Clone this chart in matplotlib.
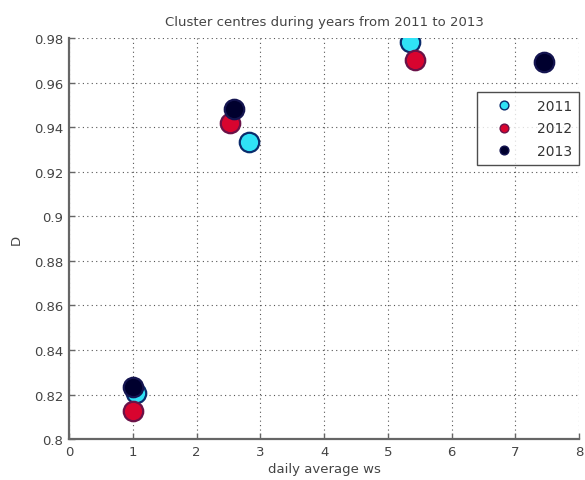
import matplotlib
matplotlib.use("Agg")
import matplotlib.pyplot as plt

plt.rcParams['font.family'] = ['DejaVu Sans']

years = ["2011", "2012", "2013"]
ws_2011 = [1.05, 2.82, 5.35]
d_2011 = [0.8205, 0.9335, 0.978]
ws_2012 = [1.0, 2.52, 5.42]
d_2012 = [0.8125, 0.942, 0.970]
ws_2013 = [1.0, 2.58, 7.45]
d_2013 = [0.8235, 0.948, 0.969]

xticks = [0, 1, 2, 3, 4, 5, 6, 7, 8]
yticks = [0.8, 0.82, 0.84, 0.86, 0.88, 0.9, 0.92, 0.94, 0.96, 0.98]
ytick_labels = ["0.8", "0.82", "0.84", "0.86", "0.88", "0.9", "0.92", "0.94", "0.96", "0.98"]

styles = [
    ("#30e2f6", "#0a2c6c"),
    ("#d8042f", "#6a1248"),
    ("#00002e", "#141450"),
]

fig = plt.figure(figsize=(5.85, 4.81), dpi=100)
ax = fig.add_axes([0.118, 0.085, 0.872, 0.834])

series = [(ws_2011, d_2011), (ws_2012, d_2012), (ws_2013, d_2013)]
for (xs, ys), label, (fc, ec) in zip(series, years, styles):
    ax.plot(xs, ys, linestyle="none", marker="o", markersize=14,
            markerfacecolor=fc, markeredgecolor=ec, markeredgewidth=1.6,
            label=label, zorder=3)

ax.set_xlim(0, 8)
ax.set_ylim(0.8, 0.98)
ax.set_xticks(xticks)
ax.set_yticks(yticks)
ax.set_yticklabels(ytick_labels)
ax.grid(True, linestyle=(0, (1, 3)), color="#555555", linewidth=0.8)
ax.set_axisbelow(True)

for s in ("top", "right"):
    ax.spines[s].set_visible(False)
for s in ("left", "bottom"):
    ax.spines[s].set_color("#666666")
    ax.spines[s].set_linewidth(1.6)

ax.tick_params(direction="in", length=4, width=1, colors="#666666",
               labelcolor="#444444", labelsize=9.5, pad=4)

ax.set_xlabel("daily average ws", fontsize=9.5, color="#444444", labelpad=3)
ax.set_ylabel("D", fontsize=9.5, color="#444444", labelpad=8)
ax.set_title("Cluster centres during years from 2011 to 2013", fontsize=9.5,
             color="#444444", pad=9)

leg = ax.legend(loc="upper right", bbox_to_anchor=(0.9995, 0.865),
                markerscale=0.45, fontsize=10, frameon=True, fancybox=False,
                borderpad=0.5, labelspacing=0.6, handlelength=2.9,
                handletextpad=0.9, borderaxespad=0)
leg.get_frame().set_edgecolor("#222222")
leg.get_frame().set_linewidth(1.0)
for h in leg.legend_handles:
    h.set_markeredgewidth(1.0)
for t in leg.get_texts():
    t.set_color("#333333")

fig.savefig("out.png", dpi=100)
